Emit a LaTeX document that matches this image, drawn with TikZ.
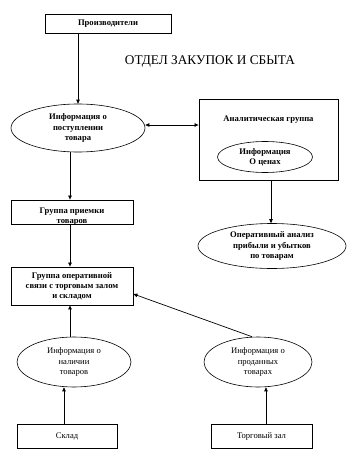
\documentclass[tikz,border=0pt]{standalone}
\usepackage{fontspec}
\setmainfont{Liberation Serif}
\usetikzlibrary{arrows.meta,shapes.geometric}

\begin{document}
\begin{tikzpicture}[
    x=1pt, y=-1pt,
    font=\fontsize{8.6}{10.2}\selectfont\bfseries,
    box/.style={draw, line width=0.8pt, align=center, inner sep=1pt},
    oval/.style={draw, ellipse, line width=0.6pt, align=center, inner sep=0pt},
    plain/.style={font=\fontsize{8.6}{10.2}\selectfont},
    arr/.style={-{Triangle[length=4pt, width=3.5pt]}, line width=0.7pt},
    darr/.style={{Triangle[length=4pt, width=3.5pt]}-{Triangle[length=4pt, width=3.5pt]}, line width=0.7pt},
]
\useasboundingbox (0,0) rectangle (349,457);

\node[box, minimum width=126pt, minimum height=19pt] (prod) at (108,23.5) {Производители};
\node[font=\fontsize{13.3}{15}\selectfont] (title) at (210,62) {ОТДЕЛ ЗАКУПОК И СБЫТА};

\node[oval, minimum width=134pt, minimum height=48pt] (post) at (78,128) {Информация о\\ поступлении\\ товара};

\node[box, minimum width=139pt, minimum height=81pt] (anal) at (268.5,139.5) {};
\node (analt) at (268.5,120) {Аналитическая группа};
\node[oval, minimum width=95pt, minimum height=31pt] (price) at (265,157) {Информация\\ О ценах};

\node[oval, minimum width=148pt, minimum height=45pt] (oper) at (272,246) {Оперативный анализ\\ прибыли и убытков\\ по  товарам};

\node[box, minimum width=122pt, minimum height=24pt] (priem) at (72,212) {};
\begin{scope}
    \clip (11,199) rectangle (133,223.3);
    \node[anchor=north, align=center] (priemt) at (72,204.5) {Группа приемки\\ товаров};
\end{scope}

\node[box, minimum width=122pt, minimum height=38pt] (svyaz) at (72,286) {Группа оперативной\\ связи с торговым залом\\ и складом};

\node[oval, plain, minimum width=114pt, minimum height=50pt] (nal) at (74,362) {Информация о\\ наличии\\ товаров};
\node[oval, plain, minimum width=108pt, minimum height=50pt] (prodan) at (258,362) {Информация о\\ проданных\\ товарах};

\node[box, plain, minimum width=100pt, minimum height=24pt] (sklad) at (67,436) {Склад};
\node[box, plain, minimum width=101pt, minimum height=24pt] (zal) at (261.5,436) {Торговый зал};

\draw[arr] (prod.south -| 78,0) -- (post.north);
\draw[darr] (post.east |- 0,125) -- (anal.west |- 0,125);
\draw[arr] (anal.south -| 271,0) -- (oper.north -| 271,0);
\draw[arr] (post.south -| 70,0) -- (priem.north -| 70,0);
\draw[arr] (priem.south -| 70,0) -- (svyaz.north -| 70,0);
\draw[arr] (nal.north -| 70,0) -- (svyaz.south -| 70,0);
\draw[arr] (prodan.north -| 252,0) -- (svyaz.east |- 0,294);
\draw[arr] (sklad.north -| 64,0) -- (nal.south -| 64,0);
\draw[arr] (zal.north -| 266,0) -- (prodan.south -| 266,0);
\end{tikzpicture}
\end{document}
